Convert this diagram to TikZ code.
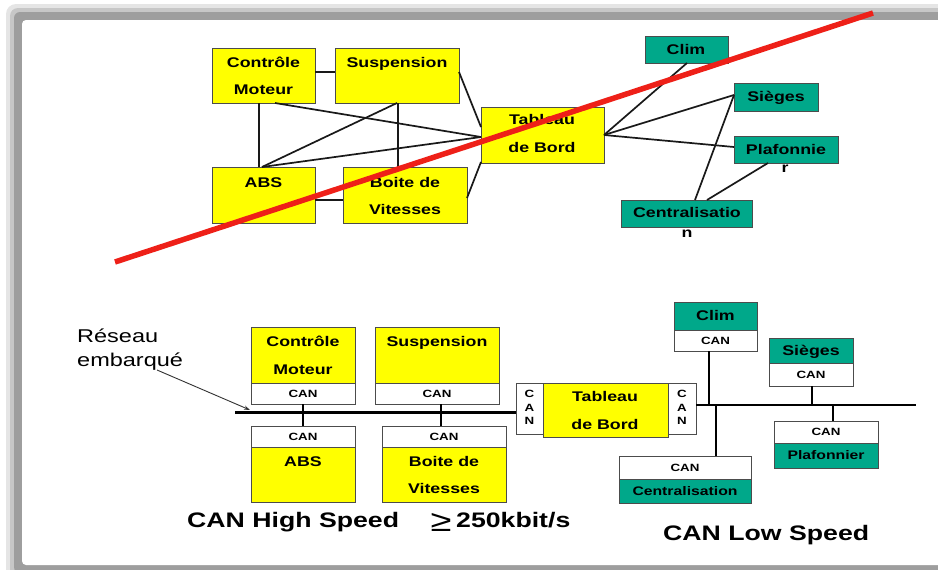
\documentclass[tikz,border=0pt]{standalone}
\usepackage{fontspec}
\setmainfont{Liberation Sans}[FakeStretch=1.27]
\usetikzlibrary{calc,arrows.meta}
\definecolor{ybox}{RGB}{255,255,0}
\definecolor{gbox}{RGB}{0,168,138}
\definecolor{redbar}{RGB}{238,32,24}
\tikzset{
  boxbase/.style={draw=black!70, line width=0.9pt, anchor=north west, inner sep=0pt, outer sep=0pt},
  yelbox/.style={boxbase, fill=ybox},
  grnbox/.style={boxbase, fill=gbox},
  canbox/.style={boxbase, fill=white},
  lbl/.style={inner sep=0pt, font=\fontsize{14}{14}\selectfont\bfseries, text height=0.72em, text depth=0pt},
  glbl/.style={lbl, font=\fontsize{12.4}{12.4}\selectfont\bfseries},
  canlbl/.style={inner sep=0pt, font=\fontsize{10.5}{10.5}\selectfont\bfseries, text height=0.72em, text depth=0pt},
  conn/.style={line width=1.7pt, black!90},
  bus/.style={line width=3pt, black},
  lbus/.style={line width=2pt, black},
  stub/.style={line width=2.5pt, black},
  big/.style={inner sep=0pt, anchor=west, font=\fontsize{21}{21}\selectfont\bfseries, text height=0.72em, text depth=0pt},
}
\begin{document}
\begin{tikzpicture}[x=1pt,y=-1pt]
\useasboundingbox (0,0) rectangle (938,570);
% frame with soft shadow
\fill[black!10, rounded corners=10pt] (6,4) rectangle (970,582);
\fill[black!22, rounded corners=8pt] (10,8) rectangle (965,578);
\fill[black!38, rounded corners=6pt] (14,12) rectangle (960,573);
\fill[white, rounded corners=4pt] (22,20) rectangle (950,565);

% ================= TOP DIAGRAM =================
\node[yelbox, minimum width=103pt, minimum height=55pt] (cm) at (212,48) {};
\node[yelbox, minimum width=124pt, minimum height=55pt] (su) at (335,48) {};
\node[yelbox, minimum width=103pt, minimum height=56pt] (ab) at (212,167) {};
\node[yelbox, minimum width=124pt, minimum height=56pt] (bv) at (343,167) {};
\node[yelbox, minimum width=123pt, minimum height=56pt] (tb) at (481,107) {};
\node[grnbox, minimum width=83pt, minimum height=27pt] (cl) at (645,36) {};
\node[grnbox, minimum width=84pt, minimum height=28pt] (si) at (734,83) {};
\node[grnbox, minimum width=104pt, minimum height=27pt] (pl) at (734,136) {};
\node[grnbox, minimum width=131pt, minimum height=27pt] (ce) at (621,200) {};

\node[lbl] (cmA) at (263.5,64) {Contrôle};
\node[lbl] (cmB) at (263.5,91) {Moteur};
\node[lbl] (suA) at (397,64) {Suspension};
\node[lbl] (abA) at (263.5,184) {ABS};
\node[lbl] (bvA) at (405,184) {Boite de};
\node[lbl] (bvB) at (405,211) {Vitesses};
\node[lbl] (tbA) at (542,121) {Tableau};
\node[lbl] (tbB) at (542,149) {de Bord};
\node[lbl] (clA) at (686,51) {Clim};
\node[lbl] (siA) at (776,98) {Sièges};
\node[lbl] (plA) at (786,151) {Plafonnie};
\node[lbl] (plB) at (785,169) {r};
\node[lbl] (ceA) at (687,214) {Centralisatio};
\node[lbl] (ceB) at (687,234) {n};

% connectors
\draw[conn] ($(cm.north east)+(0,24)$) -- ($(su.north west)+(0,24)$);
\draw[conn] ($(cm.south west)+(47,0)$) -- ($(ab.north west)+(47,0)$);
\draw[conn] ($(cm.south west)+(63,0)$) -- ($(tb.north west)+(0,30)$);
\draw[conn] ($(su.south west)+(62,0)$) -- ($(ab.north west)+(50,0)$);
\draw[conn] ($(su.south west)+(63,0)$) -- ($(bv.north west)+(55,0)$);
\draw[conn] ($(ab.north west)+(50,0)$) -- ($(tb.north west)+(0,30)$);
\draw[conn] ($(su.north east)+(0,24)$) -- ($(tb.north west)+(0,20)$);
\draw[conn] ($(bv.north east)+(0,31)$) -- ($(tb.south west)+(0,-1)$);
\draw[conn] ($(ab.north east)+(0,33)$) -- ($(bv.north west)+(0,33)$);
\draw[conn] ($(tb.north east)+(0,28)$) -- ($(cl.south west)+(42,0)$);
\draw[conn] ($(tb.north east)+(0,28)$) -- ($(si.north west)+(0,12)$);
\draw[conn] ($(tb.north east)+(0,28)$) -- ($(pl.north west)+(0,11)$);
\draw[conn] ($(ce.north west)+(74,0)$) -- ($(si.north west)+(0,12)$);
\draw[conn] ($(ce.north west)+(86,0)$) -- ($(pl.south west)+(34,0)$);

% red strike line
\coordinate (rs) at (115,262);
\coordinate (re) at (873,13);
\draw[redbar, line width=5.5pt] (rs) -- (re);

% ================= BOTTOM DIAGRAM =================
\node[yelbox, minimum width=104pt, minimum height=56pt] (cm2) at (251,327) {};
\node[canbox, minimum width=104pt, minimum height=21pt] (cm2c) at (251,383) {};
\node[yelbox, minimum width=124pt, minimum height=56pt] (su2) at (375,327) {};
\node[canbox, minimum width=124pt, minimum height=21pt] (su2c) at (375,383) {};
\node[canbox, minimum width=104pt, minimum height=21pt] (ab2c) at (251,426) {};
\node[yelbox, minimum width=104pt, minimum height=55pt] (ab2) at (251,447) {};
\node[canbox, minimum width=124pt, minimum height=21pt] (bv2c) at (382,426) {};
\node[yelbox, minimum width=124pt, minimum height=55pt] (bv2) at (382,447) {};
\node[canbox, minimum width=27pt, minimum height=51pt] (tbl) at (516,383) {};
\node[yelbox, minimum width=125pt, minimum height=54pt] (tb2) at (543,383) {};
\node[canbox, minimum width=28pt, minimum height=51pt] (tbr) at (668,383) {};
\node[grnbox, minimum width=83pt, minimum height=28pt] (cl2) at (674,302) {};
\node[canbox, minimum width=83pt, minimum height=21pt] (cl2c) at (674,330) {};
\node[grnbox, minimum width=84pt, minimum height=25pt] (si2) at (769,338) {};
\node[canbox, minimum width=84pt, minimum height=23pt] (si2c) at (769,363) {};
\node[canbox, minimum width=104pt, minimum height=22pt] (pl2c) at (774,421) {};
\node[grnbox, minimum width=104pt, minimum height=25pt] (pl2) at (774,443) {};
\node[canbox, minimum width=132pt, minimum height=23pt] (ce2c) at (619,456) {};
\node[grnbox, minimum width=132pt, minimum height=24pt] (ce2) at (619,479) {};

% labels
\node[lbl] at (303,343) {Contrôle};
\node[lbl] at (303,371) {Moteur};
\node[canlbl] at (303,394) {CAN};
\node[lbl] at (437,343) {Suspension};
\node[canlbl] at (437,394) {CAN};
\node[canlbl] at (303,437) {CAN};
\node[lbl] at (303,463) {ABS};
\node[canlbl] at (444,437) {CAN};
\node[lbl] at (444,463) {Boite de};
\node[lbl] at (444,490) {Vitesses};
\node[canlbl] at (529.5,394) {C};
\node[canlbl] at (529.5,407.5) {A};
\node[canlbl] at (529.5,421) {N};
\node[lbl] at (605,398) {Tableau};
\node[lbl] at (605,426) {de Bord};
\node[canlbl] at (682,394) {C};
\node[canlbl] at (682,407.5) {A};
\node[canlbl] at (682,421) {N};
\node[lbl] at (715.5,317) {Clim};
\node[canlbl] at (715.5,340.5) {CAN};
\node[lbl] at (811,352) {Sièges};
\node[canlbl] at (811,375) {CAN};
\node[canlbl] at (826,432) {CAN};
\node[glbl] at (826,456) {Plafonnier};
\node[canlbl] at (685,468) {CAN};
\node[glbl] at (685,492) {Centralisation};

% high speed bus
\coordinate (hsl) at (235,412);
\draw[bus] (hsl) -- (tbl.west |- hsl);
\draw[stub] ($(cm2c.south west)+(52,0)$) -- ($(ab2c.north west)+(52,0)$);
\draw[stub] ($(su2c.south west)+(66,0)$) -- ($(bv2c.north west)+(59,0)$);
% low speed bus
\coordinate (lse) at (916,405);
\draw[lbus] (tbr.east |- lse) -- (lse);
\draw[stub] ($(cl2c.south west)+(35,0)$) -- ($(cl2c.south west)+(35,54)$);
\draw[stub] ($(ce2c.north west)+(97,0)$) -- ($(ce2c.north west)+(97,-51)$);
\draw[stub] ($(si2c.south west)+(43,0)$) -- ($(si2c.south west)+(43,19)$);
\draw[stub] ($(pl2c.north west)+(59,0)$) -- ($(pl2c.north west)+(59,-16)$);

% Reseau embarque
\node[inner sep=0pt, anchor=west, font=\fontsize{18.5}{18.5}\selectfont, text height=0.72em, text depth=0pt] (re1) at (77,338.5) {Réseau};
\node[inner sep=0pt, anchor=west, font=\fontsize{18.5}{18.5}\selectfont, text height=0.72em, text depth=0pt] (re2) at (77,362.5) {embarqué};
\coordinate (arrS) at (157,370);
\coordinate (arrE) at (250,410);
\draw[black!80, line width=0.9pt, -{Stealth[length=6pt,width=4pt]}] (arrS) -- (arrE);

% speed labels
\node[big] (hs) at (187,524) {CAN High Speed};
\node[inner sep=0pt, font=\fontsize{30}{30}\selectfont] (ge) at (441,522) {≥};
\node[big] (kb) at (456,524) {250kbit/s};
\node[big] (ls) at (663,537) {CAN Low Speed};
\end{tikzpicture}
\end{document}
